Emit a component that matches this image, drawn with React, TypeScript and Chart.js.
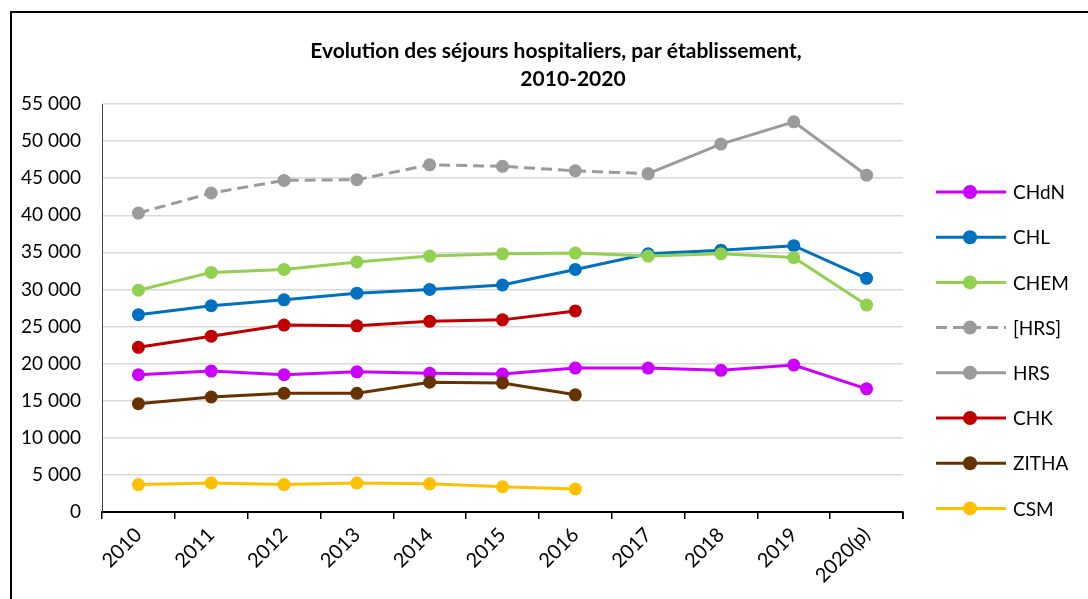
import React, { useEffect, useRef } from 'react';
import { Chart, registerables } from 'chart.js';

Chart.register(...registerables);

const years = ['2010', '2011', '2012', '2013', '2014', '2015', '2016', '2017', '2018', '2019', '2020(p)'];
const titleLines = ['Evolution des séjours hospitaliers, par établissement,', '2010-2020'];

const chdn = [18500, 19000, 18500, 18900, 18700, 18600, 19400, 19400, 19100, 19800, 16600];
const chl = [26600, 27800, 28600, 29500, 30000, 30600, 32700, 34800, 35300, 35900, 31500];
const chem = [29900, 32300, 32700, 33700, 34500, 34800, 34900, 34500, 34800, 34300, 27900];
const hrsEstimated = [40300, 43000, 44700, 44800, 46800, 46600, 46000, 45600, null, null, null];
const hrs = [null, null, null, null, null, null, null, 45600, 49600, 52600, 45400];
const chk = [22200, 23700, 25200, 25100, 25700, 25900, 27100, null, null, null, null];
const zitha = [14600, 15500, 16000, 16000, 17500, 17400, 15800, null, null, null, null];
const csm = [3700, 3900, 3700, 3900, 3800, 3400, 3100, null, null, null, null];

const seriesLabels = ['CHdN', 'CHL', 'CHEM', '[HRS]', 'HRS', 'CHK', 'ZITHA', 'CSM'];
const seriesData = [chdn, chl, chem, hrsEstimated, hrs, chk, zitha, csm];
const seriesColors = ['#CC00FF', '#0070C0', '#92D050', '#9B9B9B', '#9B9B9B', '#C00000', '#663300', '#FFC000'];
const seriesDashed = [false, false, false, true, false, false, false, false];

const FONT = 'Lato, "Open Sans", sans-serif';

const fmt = (v: number) => String(v).replace(/\B(?=(\d{3})+(?!\d))/g, ' ');

const decorPlugin = {
  id: 'decor',
  afterDraw(chart: any) {
    const ctx = chart.ctx;
    ctx.save();
    // outer border
    ctx.strokeStyle = '#000';
    ctx.lineWidth = 2;
    ctx.strokeRect(11, 12, 3000, 3000);

    // title
    ctx.fillStyle = '#000';
    ctx.font = `bold 21px ${FONT}`;
    ctx.textAlign = 'center';
    ctx.textBaseline = 'alphabetic';
    ctx.fillText(titleLines[0], 556, 58);
    ctx.fillText(titleLines[1], 573, 86);

    // last x tick mark
    const ca = chart.chartArea;
    ctx.strokeStyle = '#000';
    ctx.lineWidth = 1.5;
    ctx.beginPath();
    ctx.moveTo(ca.right, ca.bottom);
    ctx.lineTo(ca.right, ca.bottom + 7);
    ctx.stroke();

    // legend
    const ds = chart.data.datasets;
    const x0 = 936, x1 = 1006, xc = 970, xt = 1013, y0 = 192, dy = 45.2;
    ds.forEach((d: any, i: number) => {
      const y = y0 + i * dy;
      ctx.strokeStyle = d.borderColor;
      ctx.lineWidth = 3;
      ctx.setLineDash(d.borderDash || []);
      ctx.beginPath();
      ctx.moveTo(x0, y);
      ctx.lineTo(x1, y);
      ctx.stroke();
      ctx.setLineDash([]);
      ctx.fillStyle = d.borderColor;
      ctx.beginPath();
      ctx.arc(xc, y, 7, 0, Math.PI * 2);
      ctx.fill();
      ctx.fillStyle = '#000';
      ctx.font = `19px ${FONT}`;
      ctx.textAlign = 'left';
      ctx.textBaseline = 'middle';
      ctx.fillText(d.label, xt, y + 1);
    });
    ctx.restore();
  },
};

export default function App() {
  const ref = useRef<HTMLCanvasElement | null>(null);
  useEffect(() => {
    if (!ref.current) return;
    const n = seriesLabels.length;
    const chart = new Chart(ref.current, {
      type: 'line',
      data: {
        labels: years,
        datasets: seriesLabels.map((label, i) => ({
          label,
          data: seriesData[i],
          borderColor: seriesColors[i],
          backgroundColor: seriesColors[i],
          pointBackgroundColor: seriesColors[i],
          pointBorderColor: seriesColors[i],
          pointBorderWidth: 0,
          pointRadius: 6.5,
          borderWidth: 3,
          borderDash: seriesDashed[i] ? [11, 6] : [],
          spanGaps: false,
          tension: 0,
          order: n - i,
        })),
      },
      options: {
        responsive: true,
        maintainAspectRatio: false,
        animation: false,
        layout: { padding: { left: 14, right: 185, top: 104, bottom: 0 } },
        plugins: {
          legend: { display: false },
          title: { display: false },
          tooltip: { enabled: false },
        },
        scales: {
          x: {
            offset: true,
            grid: {
              offset: true,
              drawOnChartArea: false,
              drawTicks: true,
              tickLength: 7,
              color: '#000',
              lineWidth: 1.5,
            },
            border: { color: '#000', width: 2 },
            ticks: {
              color: '#000',
              font: { family: FONT, size: 20 },
              minRotation: 45,
              maxRotation: 45,
              autoSkip: false,
              padding: 4,
            },
            afterFit(scale: any) {
              scale.height = 599 - 512;
            },
          },
          y: {
            min: 0,
            max: 55000,
            grid: {
              color: '#D9D9D9',
              lineWidth: 1.5,
              drawTicks: false,
            },
            border: { color: '#404040', width: 1 },
            ticks: {
              stepSize: 5000,
              color: '#000',
              font: { family: FONT, size: 19 },
              padding: 21,
              callback: (v: any) => fmt(Number(v)),
            },
            afterFit(scale: any) {
              scale.width = 102 - 14;
            },
          },
        },
      },
      plugins: [decorPlugin],
    });
    return () => chart.destroy();
  }, []);
  return (
    <div style={{ position: 'fixed', left: 0, top: 0, width: 1088, height: 599, background: '#fff' }}>
      <canvas ref={ref} />
    </div>
  );
}
